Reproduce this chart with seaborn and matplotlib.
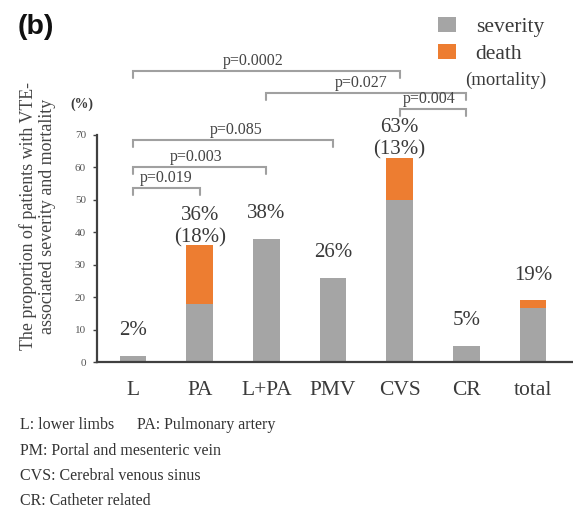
import numpy as np
import pandas as pd
import matplotlib
matplotlib.use("Agg")
import matplotlib.pyplot as plt
import seaborn as sns

# ---- data -------------------------------------------------------------
categories = ["L", "PA", "L+PA", "PMV", "CVS", "CR", "total"]
total_pct = [2, 36, 38, 26, 63, 5, 19]          # severity incl. death (%)
death_pct = [0, 18, 0, 0, 13, 0, 2.3]           # mortality (%)
death_labelled = [False, True, False, False, True, False, False]

cmp_left = ["L", "L", "L", "L", "L+PA", "CVS"]
cmp_right = ["PA", "L+PA", "PMV", "CVS", "CR", "CR"]
p_values = ["0.019", "0.003", "0.085", "0.0002", "0.027", "0.004"]

footnotes = [
    [("L: lower limbs", 20), ("PA: Pulmonary artery", 137)],
    [("PM: Portal and mesenteric vein", 20)],
    [("CVS: Cerebral venous sinus", 20)],
    [("CR: Catheter related", 20)],
]

GRAY = "#a5a5a5"
ORANGE = "#ed7d31"
TXT = "#3a3a3a"

severity_pct = [t - d for t, d in zip(total_pct, death_pct)]
df = pd.DataFrame({"site": categories, "total": total_pct,
                   "severity": severity_pct, "death": death_pct})

sns.set_theme(style="white")
plt.rcParams["font.family"] = ["Liberation Serif", "DejaVu Serif"]

W, H = 573, 513
fig = plt.figure(figsize=(W / 100, H / 100), dpi=100)
ax = fig.add_axes([97 / W, (H - 362) / H, 1 - 97 / W, (362 - 135) / H])

# stacked bars: full height in orange, severity part on top in gray
sns.barplot(data=df, x="site", y="total", color=ORANGE, width=0.4,
            saturation=1, errorbar=None, linewidth=0, ax=ax)
sns.barplot(data=df, x="site", y="severity", color=GRAY, width=0.4,
            saturation=1, errorbar=None, linewidth=0, ax=ax)

ax.set_xlim(-0.54, 6.6)
ax.set_ylim(0, 70)
ax.set_yticks(np.arange(0, 71, 10))
ax.set_xlabel("")
ax.set_ylabel("")
for s in ("top", "right"):
    ax.spines[s].set_visible(False)
for s in ("left", "bottom"):
    ax.spines[s].set_color("#404040")
    ax.spines[s].set_linewidth(1.6)
ax.tick_params(axis="y", direction="out", length=3, width=1,
               color="#404040", labelsize=8, labelcolor="#555555", pad=5,
               left=True)
ax.tick_params(axis="x", length=0, labelsize=15.5, labelcolor=TXT, pad=14)

# value labels above the bars
for i, (t, d, lab) in enumerate(zip(total_pct, death_pct, death_labelled)):
    if lab:
        ax.annotate(f"{t:.0f}%", (i, t), xytext=(0, 21.5), textcoords="offset points",
                    ha="center", va="center", fontsize=15, color=TXT)
        ax.annotate(f"({d:.0f}%)", (i, t), xytext=(0, 5.5), textcoords="offset points",
                    ha="center", va="center", fontsize=15, color=TXT)
    else:
        ax.annotate(f"{t:.0f}%", (i, t), xytext=(0, 18), textcoords="offset points",
                    ha="center", va="center", fontsize=15, color=TXT)

# significance brackets
levels = [53.7, 60.1, 68.5, 89.7, 82.9, 78.0]
text_shift = [0, -0.05, 0.05, -0.2, -0.07, -0.05]
drop = 2.2
for a, b, p, lv, dx in zip(cmp_left, cmp_right, p_values, levels, text_shift):
    x0, x1 = categories.index(a), categories.index(b)
    ax.plot([x0, x0, x1, x1], [lv - drop, lv, lv, lv - drop], color="#a0a0a0",
            lw=1.5, clip_on=False, solid_joinstyle="miter")
    ax.annotate(f"p={p}", ((x0 + x1) / 2 + dx, lv), xytext=(0, 1.5),
                textcoords="offset points", ha="center", va="bottom",
                fontsize=11.5, color="#444444", annotation_clip=False)

# unit marker
fig.text(82 / W, 1 - 104 / H, "(%)", ha="center", va="center", fontsize=10,
         fontweight="bold", color=TXT)

# y-axis title
fig.text(38 / W, 1 - 216 / H,
         "The proportion of patients with VTE-\nassociated severity and mortality",
         rotation=90, ha="center", va="center", multialignment="center",
         fontsize=12.9, color="#444444", linespacing=1.15)

# panel tag
fig.text(18 / W, 1 - 27 / H, "(b)", ha="left", va="center", fontsize=20.5,
         fontweight="bold", family=["Liberation Sans", "DejaVu Sans"], color="#111111")

# legend
handles = [ax.containers[1], ax.containers[0]]
leg = fig.legend(handles, ["severity", "death"], loc="upper left",
                 bbox_to_anchor=(438 / W, 1 - 17 / H), frameon=False,
                 fontsize=15.5, handlelength=0.85, handleheight=0.7,
                 handletextpad=0.9, labelspacing=0.32, borderpad=0,
                 borderaxespad=0)
for t in leg.get_texts():
    t.set_color(TXT)
fig.text(506 / W, 1 - 80 / H, "(mortality)", ha="center", va="center",
         fontsize=13.5, color=TXT)

# abbreviations below the chart
row_y = [425, 451, 476, 501]
for row, y in zip(footnotes, row_y):
    for text, x in row:
        fig.text(x / W, 1 - y / H, text, ha="left", va="center",
                 fontsize=11.5, color="#333333")

fig.savefig("out.png", dpi=100)
